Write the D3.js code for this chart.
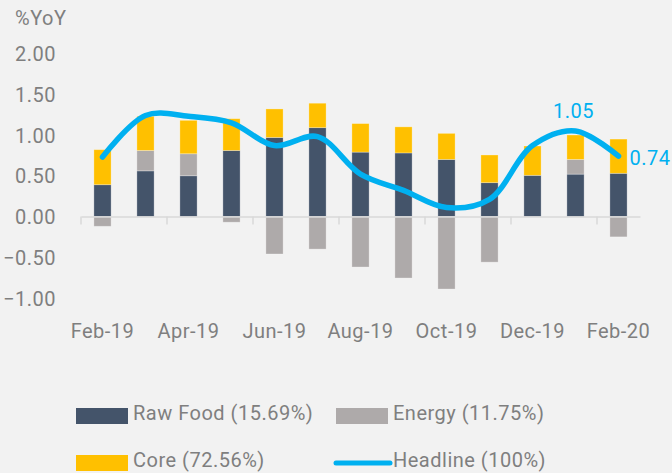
<!DOCTYPE html>
<html>
<head>
<meta charset="utf-8">
<script src="https://cdn.jsdelivr.net/npm/d3@7"></script>
<style>
	body { margin: 0; background: #f2f2f2; }
	svg { display: block; font-family: Roboto, "Noto Sans", sans-serif; }
	.tickLabel { fill: #7f7f7f; font-size: 20px; letter-spacing: 0.5px; }
	.legendText { fill: #7f7f7f; font-size: 20px; letter-spacing: 0.5px; }
</style>
</head>
<body>
<script>
//chart data
var months = ["Feb-19","Mar-19","Apr-19","May-19","Jun-19","Jul-19","Aug-19","Sep-19","Oct-19","Nov-19","Dec-19","Jan-20","Feb-20"];
var rawFood = [0.39, 0.56, 0.50, 0.81, 0.97, 1.09, 0.79, 0.78, 0.70, 0.415, 0.505, 0.52, 0.53];
var energy = [-0.12, 0.25, 0.27, -0.07, -0.46, -0.40, -0.62, -0.755, -0.89, -0.56, 0.00, 0.18, -0.25];
var core = [0.43, 0.42, 0.41, 0.39, 0.35, 0.30, 0.35, 0.32, 0.32, 0.34, 0.36, 0.30, 0.42];
var headline = [0.73, 1.24, 1.23, 1.15, 0.87, 0.98, 0.52, 0.32, 0.11, 0.21, 0.87, 1.05, 0.74];
var yTicks = [-1, -0.5, 0, 0.5, 1, 1.5, 2];
var seriesNames = ["Raw Food (15.69%)", "Energy (11.75%)", "Core (72.56%)", "Headline (100%)"];
var colors = ["#44546a", "#aeaaaa", "#ffc000", "#00b0f0"];

(function(){
	var width = 672,
		height = 473;

	var svg = d3.select("body")
		.append("svg")
		.attr("width", width)
		.attr("height", height);

	svg.append("rect")
		.attr("width", width)
		.attr("height", height)
		.attr("fill", "#f2f2f2");

	//scales
	var x = d3.scaleBand()
		.domain(months)
		.range([81, 640])
		.padding(0);

	var y = d3.scaleLinear()
		.domain([-1, 2])
		.range([298, 53.5]);

	//table for stacking
	var table = months.map(function(m, i){
		return {month: m, raw: rawFood[i], energy: energy[i], core: core[i]};
	});

	var stack = d3.stack()
		.keys(["raw", "energy", "core"])
		.offset(d3.stackOffsetDiverging);

	var layers = stack(table);

	//y axis labels
	var yAxis = d3.axisLeft(y)
		.tickValues(yTicks)
		.tickSize(0)
		.tickPadding(0)
		.tickFormat(d3.format(".2f"));

	var gy = svg.append("g")
		.attr("transform", "translate(56,0)")
		.call(yAxis);
	gy.select(".domain").remove();
	gy.attr("font-size", null).attr("font-family", null);
	gy.selectAll("text")
		.attr("class", "tickLabel")
		.attr("dy", "0.36em");

	svg.append("text")
		.attr("class", "tickLabel")
		.attr("x", 15)
		.attr("y", 25)
		.text("%YoY");

	//bars
	var bw = x.bandwidth() * 0.4;
	svg.selectAll(".layer")
		.data(layers)
		.enter()
		.append("g")
		.attr("class", "layer")
		.attr("fill", function(d, i){ return colors[i]; })
		.selectAll("rect")
		.data(function(d){ return d; })
		.enter()
		.append("rect")
		.attr("x", function(d){ return x(d.data.month) + (x.bandwidth() - bw) / 2; })
		.attr("width", bw)
		.attr("y", function(d){ return y(Math.max(d[0], d[1])); })
		.attr("height", function(d){ return Math.abs(y(d[0]) - y(d[1])); })
		.attr("stroke", "rgba(255,255,255,0.35)")
		.attr("stroke-width", 0.8);

	//x axis
	var xAxis = d3.axisBottom(x)
		.tickValues(months.filter(function(m, i){ return i % 2 === 0; }))
		.tickSize(0)
		.tickPadding(0);

	var gx = svg.append("g")
		.attr("transform", "translate(0," + y(0) + ")")
		.call(xAxis);
	gx.attr("font-size", null).attr("font-family", null);
	gx.select(".domain")
		.attr("stroke", "#d9d9d9")
		.attr("stroke-width", 1.5);
	gx.selectAll("text")
		.attr("class", "tickLabel")
		.attr("y", 338 - y(0))
		.attr("dy", null);

	//tick marks between categories, every 2 months
	svg.selectAll(".tickMark")
		.data(months.filter(function(m, i){ return i % 2 === 0; }))
		.enter()
		.append("line")
		.attr("class", "tickMark")
		.attr("x1", function(d){ return x(d); })
		.attr("x2", function(d){ return x(d); })
		.attr("y1", y(0))
		.attr("y2", y(0) + 8)
		.attr("stroke", "#d9d9d9")
		.attr("stroke-width", 1.5);

	//headline line
	var line = d3.line()
		.x(function(d, i){ return x(months[i]) + x.bandwidth() / 2; })
		.y(function(d){ return y(d); })
		.curve(d3.curveCatmullRom.alpha(0.5));

	svg.append("path")
		.datum(headline)
		.attr("d", line)
		.attr("fill", "none")
		.attr("stroke", colors[3])
		.attr("stroke-width", 5.5)
		.attr("stroke-linecap", "round")
		.attr("stroke-linejoin", "round");

	//data labels
	var n = months.length;
	svg.append("text")
		.attr("x", x(months[n - 2]) + x.bandwidth() / 2 - 2)
		.attr("y", y(headline[n - 2]) - 13)
		.attr("text-anchor", "middle")
		.attr("fill", colors[3])
		.style("font-size", "20px")
		.style("letter-spacing", "0.5px")
		.text(headline[n - 2].toFixed(2));

	svg.append("text")
		.attr("x", x(months[n - 1]) + x.bandwidth() / 2 + 11)
		.attr("y", y(headline[n - 1]) + 9)
		.attr("fill", colors[3])
		.style("font-size", "20px")
		.style("letter-spacing", "0.5px")
		.text(headline[n - 1].toFixed(2));

	//legend
	var legendPos = [[76, 408], [336, 408], [76, 455], [336, 455]];
	var legend = svg.selectAll(".legend")
		.data(seriesNames)
		.enter()
		.append("g")
		.attr("class", "legend")
		.attr("transform", function(d, i){ return "translate(" + legendPos[i][0] + "," + legendPos[i][1] + ")"; });

	legend.each(function(d, i){
		var g = d3.select(this);
		if (i < 3){
			g.append("rect")
				.attr("width", 52)
				.attr("height", 16)
				.attr("fill", colors[i]);
		} else {
			g.append("line")
				.attr("x1", 0)
				.attr("x2", 54)
				.attr("y1", 8)
				.attr("y2", 8)
				.attr("stroke", colors[i])
				.attr("stroke-width", 5)
				.attr("stroke-linecap", "round");
		}
		g.append("text")
			.attr("class", "legendText")
			.attr("x", 57)
			.attr("y", 12)
			.text(d);
	});
})();
</script>
</body>
</html>
